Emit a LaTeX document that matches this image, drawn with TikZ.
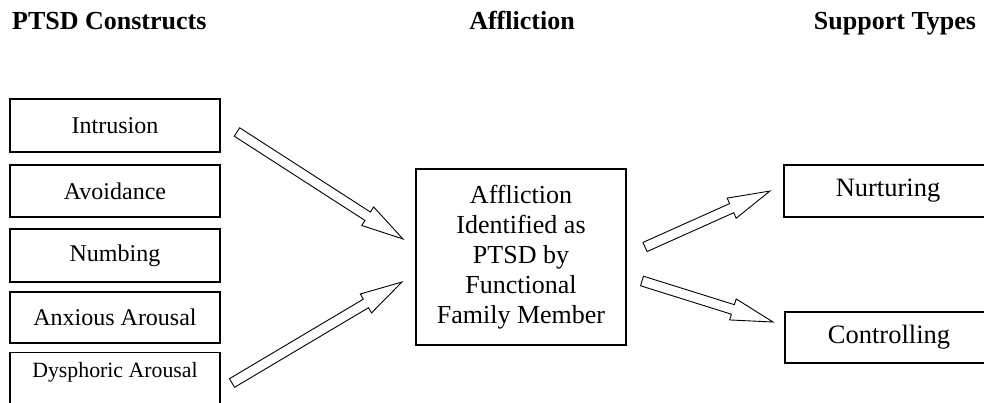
\documentclass[tikz,border=0pt]{standalone}
\usepackage{fontspec}
\setmainfont{Liberation Serif}
\usetikzlibrary{calc}
\tikzset{
  box/.style={draw, line width=1.2pt, inner sep=0pt, align=center},
  lbox/.style={box, minimum width=210pt, font=\fontsize{24}{28}\selectfont},
  rbox/.style={box, minimum width=208pt, font=\fontsize{26.5}{30}\selectfont},
  heading/.style={font=\fontsize{26}{30}\selectfont\bfseries, anchor=base, inner sep=0pt},
  hollow/.style={draw, line width=0.9pt, line join=miter, fill=white}
}
\newcommand\hollowarrow[2]{%
  \coordinate (hn) at ($(#2)!42pt!(#1)$);
  \draw[hollow] ($(#1)!5pt!90:(#2)$) -- ($(hn)!5pt!-90:(#1)$) -- ($(hn)!11pt!-90:(#1)$)
    -- (#2) -- ($(hn)!11pt!90:(#1)$) -- ($(hn)!5pt!90:(#1)$) -- ($(#1)!5pt!-90:(#2)$) -- cycle;}
\begin{document}
\begin{tikzpicture}[x=1pt, y=-1pt]
  \useasboundingbox (0,0) rectangle (984,403);
  \clip (0,0) rectangle (984,403);
  % headings
  \node[heading, anchor=base west] (h1) at (12,30) {PTSD Constructs};
  \node[heading] (h2) at (522,30) {Affliction};
  \node[heading] (h3) at (895,30) {Support Types};
  % left boxes
  \node[lbox, minimum height=53pt] (intr) at (115,125.5) {Intrusion};
  \node[lbox, minimum height=52pt] (avoid) at (115,191) {Avoidance};
  \node[lbox, minimum height=53pt] (numb) at (115,255.5) {Numbing};
  \node[lbox, minimum height=51pt] (anx) at (115,317.5) {Anxious Arousal};
  \node[box, minimum width=210pt, text height=25pt, text depth=33pt, anchor=north,
        font=\fontsize{21.8}{26}\selectfont] (dys) at (115,352) {Dysphoric Arousal};
  % center box
  \node[box, minimum width=210pt, minimum height=176pt, font=\fontsize{26}{30}\selectfont] (aff) at (521,257)
    {Affliction\\Identified as\\PTSD by\\Functional\\Family Member};
  % right boxes
  \node[rbox, minimum height=52pt] (nurt) at (888,191) {Nurturing};
  \node[rbox, minimum height=51pt] (ctrl) at (889,337.5) {Controlling};
  % arrow ends
  \coordinate (a1s) at (237,132);  \coordinate (a1e) at (403,239);
  \coordinate (a2s) at (232,383);  \coordinate (a2e) at (402,282);
  \coordinate (a3s) at (645,247);  \coordinate (a3e) at (770,191);
  \coordinate (a4s) at (642,281);  \coordinate (a4e) at (773,322);
  \hollowarrow{a1s}{a1e}
  \hollowarrow{a2s}{a2e}
  \hollowarrow{a3s}{a3e}
  \hollowarrow{a4s}{a4e}
\end{tikzpicture}
\end{document}
